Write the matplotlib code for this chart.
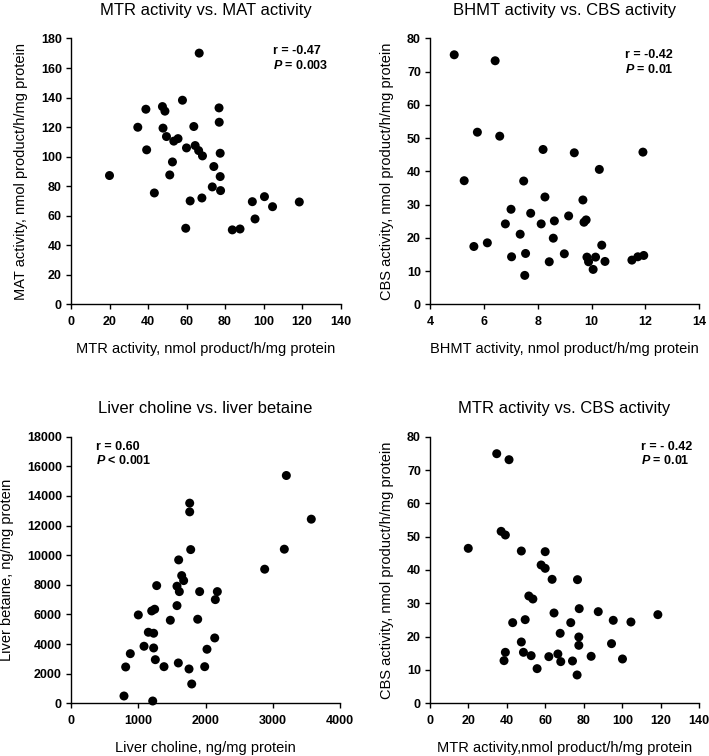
import matplotlib
matplotlib.use("Agg")
import matplotlib.pyplot as plt

plt.rcParams['font.family'] = ['Liberation Sans', 'DejaVu Sans']
plt.rcParams['mathtext.fontset'] = 'custom'
plt.rcParams['mathtext.it'] = 'Liberation Sans:italic:bold'
plt.rcParams['mathtext.rm'] = 'Liberation Sans:bold'
plt.rcParams['mathtext.bf'] = 'Liberation Sans:bold'

# Panel 1: MTR vs MAT
p1_mtr = [66.6, 38.9, 47.5, 48.8, 57.9, 76.9, 77.0, 34.7, 47.8, 63.8, 49.6, 53.4, 55.6, 39.3, 60.0,
          64.5, 66.3, 68.3, 77.5, 52.7, 74.2, 20.0, 51.3, 77.5, 43.3, 73.4, 77.7, 61.9, 68.0, 59.6,
          83.8, 87.8, 94.2, 95.6, 100.5, 104.7, 118.6]
p1_mat = [170.1, 132.1, 133.9, 130.8, 138.2, 133.0, 123.3, 119.9, 119.3, 120.4, 113.6, 110.5, 112.2,
          104.6, 105.9, 107.5, 104.1, 100.5, 102.3, 96.4, 93.3, 87.2, 87.6, 86.5, 75.4, 79.5, 77.0,
          70.0, 72.0, 51.5, 50.4, 51.0, 69.5, 57.8, 72.9, 66.1, 69.3]

# Panel 2: BHMT vs CBS
p2_bhmt = [4.90, 6.42, 5.76, 6.59, 8.20, 9.36, 11.91, 10.29, 5.27, 7.48, 8.27, 9.68, 7.01, 7.74, 9.15,
           6.80, 8.13, 8.62, 9.72, 9.80, 7.35, 8.58, 5.63, 6.13, 10.38, 7.03, 7.55, 8.99, 9.83, 10.15,
           9.89, 10.50, 8.43, 10.06, 7.52, 11.50, 11.72, 11.94]
p2_cbs = [75.1, 73.3, 51.8, 50.6, 46.6, 45.6, 45.8, 40.6, 37.2, 37.1, 32.3, 31.4, 28.6, 27.4, 26.6,
          24.2, 24.2, 25.1, 24.7, 25.4, 21.1, 19.9, 17.4, 18.5, 17.8, 14.3, 15.3, 15.2, 14.2, 14.2,
          12.8, 12.9, 12.8, 10.5, 8.7, 13.3, 14.3, 14.7]

# Panel 3: liver choline vs betaine
p3_choline = [3202, 1765, 1765, 3573, 1780, 3172, 1601, 2880, 1646, 1675, 1274, 1576, 1611, 1913, 2176,
              2146, 1576, 1200, 1244, 1001, 1477, 1884, 1150, 1229, 2137, 1086, 1229, 2022, 882, 1254,
              813, 1383, 1596, 1988, 1755, 1795, 788, 1215]
p3_betaine = [15380, 13514, 12926, 12432, 10378, 10405, 9682, 9054, 8622, 8284, 7946, 7905, 7541, 7541,
              7541, 7000, 6595, 6236, 6351, 5966, 5608, 5676, 4797, 4730, 4412, 3851, 3736, 3649, 3351,
              2946, 2453, 2473, 2723, 2473, 2318, 1304, 493, 155]

# Panel 4: MTR vs CBS
p4_mtr = [34.7, 41.1, 37.0, 39.2, 19.9, 47.5, 59.9, 57.8, 59.9, 63.5, 76.7, 51.4, 53.5, 64.5, 77.6,
          87.5, 95.3, 104.5, 118.5, 43.0, 49.5, 73.2, 67.7, 77.4, 77.4, 94.4, 47.5, 39.2, 48.6, 52.6,
          61.8, 66.5, 68.0, 38.5, 74.1, 83.8, 100.1, 55.7, 76.5]
p4_cbs = [74.9, 73.1, 51.6, 50.5, 46.5, 45.7, 45.5, 41.5, 40.5, 37.2, 37.1, 32.2, 31.3, 27.1, 28.4,
          27.5, 24.9, 24.4, 26.6, 24.2, 25.1, 24.2, 21.0, 19.9, 17.4, 17.9, 18.4, 15.3, 15.3, 14.3,
          14.0, 14.8, 12.5, 12.8, 12.7, 14.1, 13.3, 10.4, 8.5]

fig = plt.figure(figsize=(7.09, 7.56), dpi=100)

W, H = 709, 756
def rect(x0, x1, ytop, ybot):
    return [x0 / W, 1 - ybot / H, (x1 - x0) / W, (ybot - ytop) / H]

panels = [
    dict(r=rect(71, 340.5, 38.5, 304.3), x=p1_mtr, y=p1_mat, xlim=(0, 140), xt=range(0, 141, 20),
         ylim=(0, 180), yt=range(0, 181, 20), title='MTR activity vs. MAT activity',
         xl='MTR activity, nmol product/h/mg protein', yl='MAT activity, nmol product/h/mg protein',
         ann=('r = -0.47', r'$P$ = 0.003'), ax_=0.749, ay=0.975),
    dict(r=rect(430, 699.2, 38.5, 304.3), x=p2_bhmt, y=p2_cbs, xlim=(4, 14), xt=range(4, 15, 2),
         ylim=(0, 80), yt=range(0, 81, 10), title='BHMT activity vs. CBS activity',
         xl='BHMT activity, nmol product/h/mg protein', yl='CBS activity, nmol product/h/mg protein',
         ann=('r = -0.42', r'$P$ = 0.01'), ax_=0.723, ay=0.96),
    dict(r=rect(71, 340, 436.7, 703.3), x=p3_choline, y=p3_betaine, xlim=(0, 4000), xt=range(0, 4001, 1000),
         ylim=(0, 18000), yt=range(0, 18001, 2000), title='Liver choline vs. liver betaine',
         xl='Liver choline, ng/mg protein', yl='Liver betaine, ng/mg protein',
         ann=('r = 0.60', r'$P$ < 0.001'), ax_=0.093, ay=0.985),
    dict(r=rect(430, 699.2, 436.7, 703.3), x=p4_mtr, y=p4_cbs, xlim=(0, 140), xt=range(0, 141, 20),
         ylim=(0, 80), yt=range(0, 81, 10), title='MTR activity vs. CBS activity',
         xl='MTR activity,nmol product/h/mg protein', yl='CBS activity, nmol product/h/mg protein',
         ann=('r = - 0.42', r'$P$ = 0.01'), ax_=0.785, ay=0.985),
]

for p in panels:
    ax = fig.add_axes(p['r'])
    ax.scatter(p['x'], p['y'], s=42, color='black', edgecolors='none', clip_on=False, zorder=3)
    ax.set_xlim(*p['xlim'])
    ax.set_ylim(*p['ylim'])
    ax.set_xticks(list(p['xt']))
    ax.set_yticks(list(p['yt']))
    for s in ['top', 'right']:
        ax.spines[s].set_visible(False)
    for s in ['left', 'bottom']:
        ax.spines[s].set_linewidth(1.0)
    ax.tick_params(direction='out', length=3.5, width=1.0, labelsize=9)
    ax.tick_params(axis='x', pad=5)
    ax.tick_params(axis='y', pad=3)
    for lab in ax.get_xticklabels() + ax.get_yticklabels():
        lab.set_fontweight('bold')
    ax.set_title(p['title'], fontsize=12, pad=17)
    ax.set_xlabel(p['xl'], fontsize=10.5, labelpad=10)
    ax.set_ylabel(p['yl'], fontsize=10.5, labelpad=9)
    ax.text(p['ax_'], p['ay'], p['ann'][0] + '\n' + p['ann'][1], transform=ax.transAxes,
            ha='left', va='top', fontsize=9, fontweight='bold', linespacing=1.15)

fig.savefig('out.png', dpi=100)
